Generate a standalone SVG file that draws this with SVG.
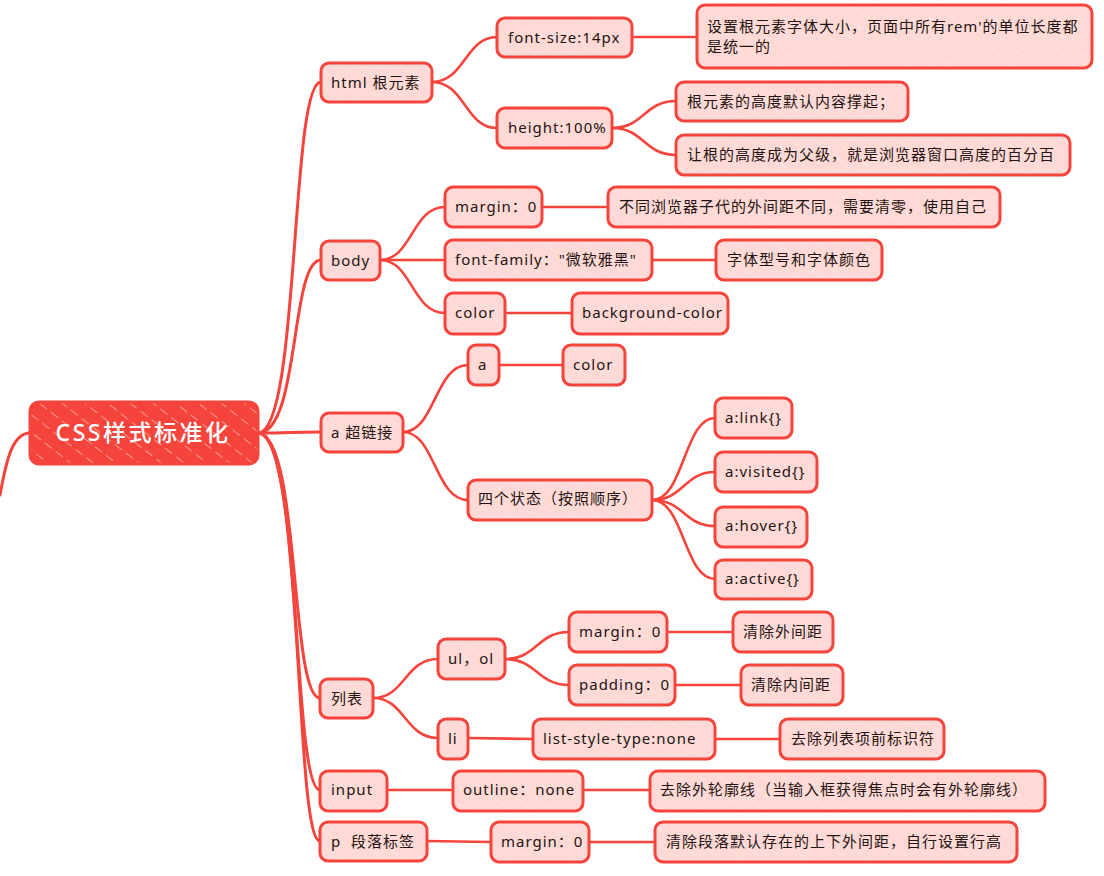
<svg xmlns="http://www.w3.org/2000/svg" width="1104" height="876" viewBox="0 0 1104 876">
<defs>
<pattern id="hatch" width="13" height="13" patternUnits="userSpaceOnUse" patternTransform="rotate(-52)">
<rect width="13" height="13" fill="#ffd9d5"/>
<line x1="0" y1="0" x2="0" y2="8" stroke="#ffffff" stroke-width="1.2" opacity="0.55"/>
</pattern>
<pattern id="hatchRoot" width="14" height="14" patternUnits="userSpaceOnUse" patternTransform="rotate(-52)">
<rect width="14" height="14" fill="#f5443c"/>
<line x1="0" y1="0" x2="0" y2="9" stroke="#ffffff" stroke-width="1.3" opacity="0.7"/>
</pattern>
</defs>
<style>
.n rect{fill:url(#hatch);stroke:#f5443c;stroke-width:3}
.t{font-family:"Noto Sans","Noto Sans CJK SC",sans-serif;font-size:15px;fill:#241411;letter-spacing:1px}
.c path{fill:none;stroke:#f5443c;stroke-width:2.6;stroke-linecap:round}
.c path.m{stroke-width:3}
</style>
<rect width="1104" height="876" fill="#ffffff"/>
<g class="c" id="connectors">
<path class="m" d="M30,433 C12,433 6,462 0,495"/>
<path class="m" d="M258,433 C300,433 290,82 321,82"/>
<path class="m" d="M258,433 C300,433 290,260 321,260"/>
<path class="m" d="M258,433 C290,433 290,432 321,432"/>
<path class="m" d="M258,433 C300,433 290,698 320,698"/>
<path class="m" d="M258,433 C302,433 292,790 320,790"/>
<path class="m" d="M258,433 C304,433 294,841 320,841"/>
<path d="M432,82 C465,82 465,37 497,37"/>
<path d="M432,82 C465,82 465,128 497,128"/>
<path d="M632,37 L697,37"/>
<path d="M612,128 C644,128 644,101 676,101"/>
<path d="M612,128 C644,128 644,155 676,155"/>
<path d="M380,260 C412,260 412,207 445,207"/>
<path d="M380,260 L445,260"/>
<path d="M380,260 C412,260 412,313 445,313"/>
<path d="M542,207 L608,207"/>
<path d="M652,260 L716,260"/>
<path d="M505,313 L572,313"/>
<path d="M403,432 C435,432 435,365 468,365"/>
<path d="M403,432 C435,432 435,500 468,500"/>
<path d="M499,365 L563,365"/>
<path d="M652,500 C684,500 684,418 715,418"/>
<path d="M652,500 C684,500 684,472 715,472"/>
<path d="M652,500 C684,500 684,526 715,526"/>
<path d="M652,500 C684,500 684,579 715,579"/>
<path d="M373,698 C405,698 405,659 438,659"/>
<path d="M373,698 C405,698 405,738 438,738"/>
<path d="M505,659 C537,659 537,632 569,632"/>
<path d="M505,659 C537,659 537,685 569,685"/>
<path d="M667,632 L733,632"/>
<path d="M675,685 L741,685"/>
<path d="M468,738 L533,739"/>
<path d="M715,739 L780,739"/>
<path d="M387,790 L453,790"/>
<path d="M583,790 L650,790"/>
<path d="M427,841 L491,842"/>
<path d="M589,842 L655,842"/>
</g>
<g id="root">
<rect x="30" y="402" width="228" height="62" rx="9" fill="url(#hatchRoot)" stroke="#f5443c" stroke-width="3"/>
<text x="143" y="441" text-anchor="middle" font-family="'Noto Sans','Noto Sans CJK SC',sans-serif" font-size="23" font-weight="500" letter-spacing="2.5" fill="#ffffff">CSS样式标准化</text>
</g>
<g class="n" id="n-html"><rect x="321" y="63" width="111" height="39" rx="8"/><text class="t" x="331" y="88">html 根元素</text></g>
<g class="n" id="n-fontsize"><rect x="497" y="18" width="135" height="39" rx="8"/><text class="t" x="508" y="43">font-size:14px</text></g>
<g class="n" id="n-height"><rect x="497" y="108" width="115" height="40" rx="8"/><text class="t" x="508" y="133">height:100%</text></g>
<g class="n" id="n-rootsize"><rect x="697" y="5" width="395" height="63" rx="8"/><text class="t" x="707" y="32">设置根元素字体大小，页面中所有rem'的单位长度都</text><text class="t" x="707" y="52">是统一的</text></g>
<g class="n" id="n-rootheight"><rect x="676" y="82" width="232" height="39" rx="8"/><text class="t" x="687" y="107">根元素的高度默认内容撑起；</text></g>
<g class="n" id="n-parent"><rect x="676" y="135" width="394" height="40" rx="8"/><text class="t" x="687" y="160">让根的高度成为父级，就是浏览器窗口高度的百分百</text></g>
<g class="n" id="n-body"><rect x="321" y="241" width="59" height="39" rx="8"/><text class="t" x="331" y="266">body</text></g>
<g class="n" id="n-margin"><rect x="445" y="187" width="97" height="40" rx="8"/><text class="t" x="455" y="212">margin：0</text></g>
<g class="n" id="n-fontfamily"><rect x="445" y="240" width="207" height="40" rx="8"/><text class="t" x="455" y="265">font-family："微软雅黑"</text></g>
<g class="n" id="n-color"><rect x="445" y="293" width="60" height="41" rx="8"/><text class="t" x="455" y="318">color</text></g>
<g class="n" id="n-browser"><rect x="608" y="187" width="392" height="40" rx="8"/><text class="t" x="619" y="212">不同浏览器子代的外间距不同，需要清零，使用自己</text></g>
<g class="n" id="n-fonttype"><rect x="716" y="240" width="166" height="40" rx="8"/><text class="t" x="727" y="265">字体型号和字体颜色</text></g>
<g class="n" id="n-bgcolor"><rect x="572" y="293" width="156" height="41" rx="8"/><text class="t" x="582" y="318">background-color</text></g>
<g class="n" id="n-a"><rect x="321" y="413" width="82" height="39" rx="8"/><text class="t" x="331" y="438">a 超链接</text></g>
<g class="n" id="n-a2"><rect x="468" y="345" width="31" height="40" rx="8"/><text class="t" x="478" y="370">a</text></g>
<g class="n" id="n-acolor"><rect x="563" y="345" width="62" height="40" rx="8"/><text class="t" x="573" y="370">color</text></g>
<g class="n" id="n-states"><rect x="468" y="480" width="184" height="40" rx="8"/><text class="t" x="478" y="504" letter-spacing="2">四个状态（按照顺序）</text></g>
<g class="n" id="n-link"><rect x="715" y="398" width="77" height="40" rx="8"/><text class="t" x="725" y="423">a:link{}</text></g>
<g class="n" id="n-visited"><rect x="715" y="452" width="102" height="40" rx="8"/><text class="t" x="725" y="477">a:visited{}</text></g>
<g class="n" id="n-hover"><rect x="715" y="507" width="92" height="40" rx="8"/><text class="t" x="725" y="531">a:hover{}</text></g>
<g class="n" id="n-active"><rect x="715" y="560" width="97" height="39" rx="8"/><text class="t" x="725" y="584">a:active{}</text></g>
<g class="n" id="n-list"><rect x="320" y="679" width="53" height="39" rx="8"/><text class="t" x="331" y="704">列表</text></g>
<g class="n" id="n-ulol"><rect x="438" y="639" width="67" height="40" rx="8"/><text class="t" x="448" y="664">ul，ol</text></g>
<g class="n" id="n-li"><rect x="438" y="719" width="30" height="40" rx="8"/><text class="t" x="448" y="744">li</text></g>
<g class="n" id="n-lmargin"><rect x="569" y="612" width="98" height="40" rx="8"/><text class="t" x="579" y="637">margin：0</text></g>
<g class="n" id="n-lpadding"><rect x="569" y="665" width="106" height="40" rx="8"/><text class="t" x="579" y="690">padding：0</text></g>
<g class="n" id="n-clearout"><rect x="733" y="612" width="100" height="40" rx="8"/><text class="t" x="743" y="637">清除外间距</text></g>
<g class="n" id="n-clearin"><rect x="741" y="665" width="102" height="40" rx="8"/><text class="t" x="751" y="690">清除内间距</text></g>
<g class="n" id="n-lst"><rect x="533" y="719" width="182" height="40" rx="8"/><text class="t" x="543" y="744">list-style-type:none</text></g>
<g class="n" id="n-removemark"><rect x="780" y="719" width="164" height="40" rx="8"/><text class="t" x="791" y="744">去除列表项前标识符</text></g>
<g class="n" id="n-input"><rect x="320" y="771" width="67" height="40" rx="8"/><text class="t" x="331" y="795">input</text></g>
<g class="n" id="n-outline"><rect x="453" y="771" width="130" height="40" rx="8"/><text class="t" x="463" y="795">outline：none</text></g>
<g class="n" id="n-removeoutline"><rect x="650" y="771" width="395" height="40" rx="8"/><text class="t" x="660" y="795">去除外轮廓线（当输入框获得焦点时会有外轮廓线）</text></g>
<g class="n" id="n-p"><rect x="320" y="822" width="107" height="39" rx="8"/><text class="t" x="331" y="847" xml:space="preserve">p  段落标签</text></g>
<g class="n" id="n-pmargin"><rect x="491" y="822" width="98" height="40" rx="8"/><text class="t" x="501" y="847">margin：0</text></g>
<g class="n" id="n-pclear"><rect x="655" y="822" width="362" height="40" rx="8"/><text class="t" x="666" y="847">清除段落默认存在的上下外间距，自行设置行高</text></g>
</svg>
